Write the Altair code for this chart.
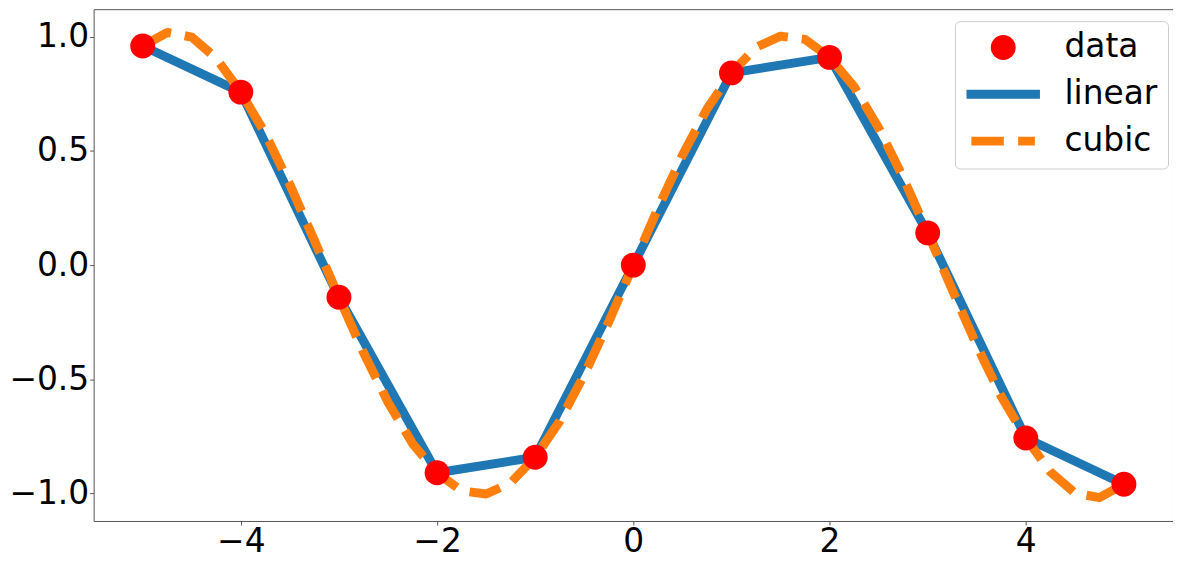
import altair as alt
import pandas as pd

# sample points
x_data = [-5, -4, -3, -2, -1, 0, 1, 2, 3, 4, 5]
y_data = [0.959, 0.757, -0.141, -0.909, -0.841, 0.0, 0.841, 0.909, 0.141, -0.757, -0.959]

# cubic interpolation curve
x_cubic = [-5.0, -4.75, -4.5, -4.25, -4.0, -3.75, -3.5, -3.25, -3.0, -2.75, -2.5, -2.25,
           -2.0, -1.75, -1.5, -1.25, -1.0, -0.75, -0.5, -0.25, 0.0, 0.25, 0.5, 0.75,
           1.0, 1.25, 1.5, 1.75, 2.0, 2.25, 2.5, 2.75, 3.0, 3.25, 3.5, 3.75, 4.0,
           4.25, 4.5, 4.75, 5.0]
y_cubic = [0.959, 1.018, 0.998, 0.905, 0.757, 0.575, 0.352, 0.108, -0.141, -0.383, -0.600, -0.781,
           -0.909, -0.988, -1.002, -0.953, -0.841, -0.683, -0.480, -0.248, 0.0, 0.248, 0.480, 0.683,
           0.841, 0.953, 1.002, 0.988, 0.909, 0.781, 0.600, 0.383, 0.141, -0.108, -0.352, -0.575, -0.757,
           -0.905, -0.998, -1.018, -0.959]

series_names = ["data", "linear", "cubic"]
series_colors = ["#ff0000", "#1f77b4", "#ff7f0e"]
legend_shapes = [
    "circle",
    "M-2.95,-0.36H2.95V0.36H-2.95Z",
    "M-2.56,-0.36H0.05V0.36H-2.56Z M1.2,-0.36H2.54V0.36H1.2Z",
]

df_pts = pd.DataFrame({"x": x_data, "y": y_data, "series": "data"})
df_cub = pd.DataFrame({"x": x_cubic, "y": y_cubic})

xscale = alt.Scale(domain=[-5.5, 5.5], nice=False, zero=False)
yscale = alt.Scale(domain=[-1.12, 1.12], nice=False, zero=False)
xaxis = alt.Axis(values=[-4, -2, 0, 2, 4], title=None, grid=False, format="d")
yaxis = alt.Axis(values=[-1.0, -0.5, 0.0, 0.5, 1.0], title=None, grid=False, format=".1f")

linear = alt.Chart(df_pts).mark_line(
    color="#1f77b4", strokeWidth=9, strokeCap="butt", strokeJoin="round"
).encode(
    x=alt.X("x:Q", scale=xscale, axis=xaxis),
    y=alt.Y("y:Q", scale=yscale, axis=yaxis),
)

cubic = alt.Chart(df_cub).mark_line(
    color="#ff7f0e", strokeWidth=9, strokeDash=[32, 14], strokeCap="butt", strokeJoin="round"
).encode(
    x=alt.X("x:Q", scale=xscale, axis=xaxis),
    y=alt.Y("y:Q", scale=yscale, axis=yaxis),
)

points = alt.Chart(df_pts).mark_point(filled=True, size=625, opacity=1).encode(
    x=alt.X("x:Q", scale=xscale, axis=xaxis),
    y=alt.Y("y:Q", scale=yscale, axis=yaxis),
    color=alt.Color("series:N", scale=alt.Scale(domain=series_names, range=series_colors),
                    legend=alt.Legend(title=None, orient="none", legendX=865, legendY=12)),
    shape=alt.Shape("series:N", scale=alt.Scale(domain=series_names, range=legend_shapes),
                    legend=alt.Legend(title=None, orient="none", legendX=865, legendY=12)),
)

chart = alt.layer(linear, cubic, points).properties(
    width=1084, height=514, padding={"left": 0, "top": 0, "right": 0, "bottom": 0}
).configure_view(
    stroke="#555555", strokeWidth=1
).configure_axis(
    domain=False, tickColor="#555555", tickSize=4, tickWidth=1,
    labelFont="DejaVu Sans", labelFontSize=33, labelColor="black", labelPadding=1,
).configure_legend(
    labelFont="DejaVu Sans", labelFontSize=33, labelColor="black",
    symbolSize=625, symbolOffset=22, labelOffset=45, padding=10, rowPadding=13,
    strokeColor="#cccccc", cornerRadius=5, fillColor="white", symbolStrokeWidth=0,
    symbolOpacity=1,
)

chart.save("out.html", embed_options={"renderer": "svg", "actions": False})
